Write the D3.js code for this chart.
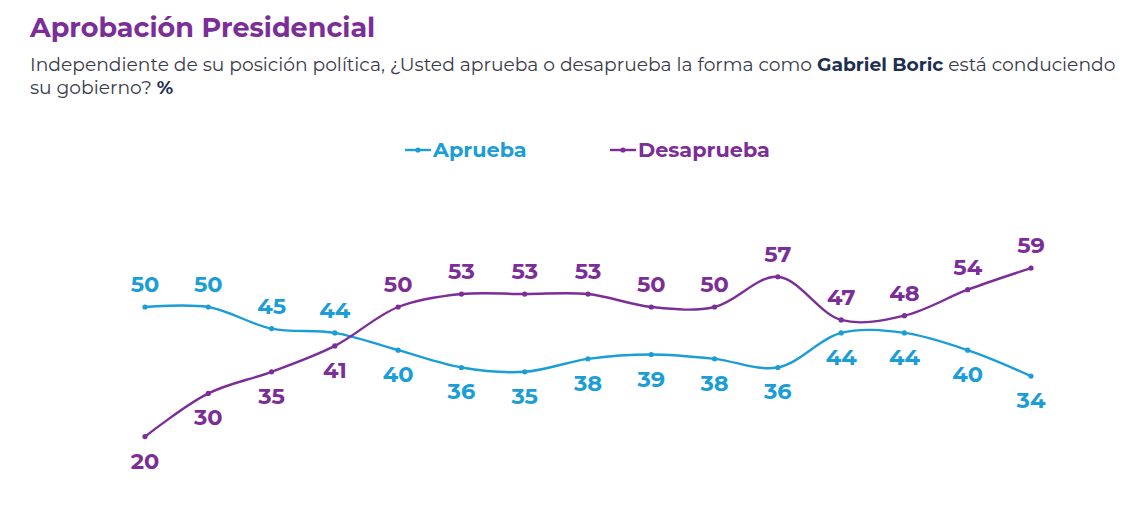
<!DOCTYPE html>
<html><head><meta charset="utf-8">
<script src="https://cdn.jsdelivr.net/npm/d3@7"></script>
<style>body{margin:0;background:#fff;}svg{display:block;}</style>
</head><body>
<svg id="c" width="1127" height="510"></svg>
<script>
const periods = d3.range(1, 16).map(String);
const aprueba = [50,50,45,44,40,36,35,38,39,38,36,44,44,40,34];
const desaprueba = [20,30,35,41,50,53,53,53,50,50,57,47,48,54,59];
const apruebaLabelAbove = [true,true,true,true,false,false,false,false,false,false,false,false,false,false,false];
const desapruebaLabelAbove = [false,false,false,false,true,true,true,true,true,true,true,true,true,true,true];

const BLUE = "#1b9dd6", PURPLE = "#7b2d98";
const FONT = "Montserrat, 'Open Sans', 'Noto Sans', sans-serif";
const svg = d3.select("#c");

svg.append("text").attr("x",30).attr("y",37).attr("fill",PURPLE)
  .attr("font-family",FONT).attr("font-weight",700).attr("font-size",27)
  .text("Aprobación Presidencial");

const sub = svg.append("g").attr("font-family",FONT).attr("font-size",18.7).attr("fill","#3b3b4a");
const l1 = sub.append("text").attr("x",30).attr("y",71);
l1.append("tspan").text("Independiente de su posición política, ¿Usted aprueba o desaprueba la forma como ");
l1.append("tspan").attr("font-weight",700).attr("fill","#1e2f52").text("Gabriel Boric");
l1.append("tspan").text(" está conduciendo");
const l2 = sub.append("text").attr("x",30).attr("y",94);
l2.append("tspan").text("su gobierno? ");
l2.append("tspan").attr("font-weight",700).attr("fill","#1e2f52").text("%");

const x = d3.scalePoint().domain(periods).range([145,1031]);
const y = d3.scaleLinear().domain([0,100]).range([523,91]);

const line = d3.line().x((d,i)=>x(periods[i])).y(d=>y(d)).curve(d3.curveCatmullRom.alpha(0.5));

function series(vals, above, color){
  const g = svg.append("g");
  g.append("path").attr("d",line(vals)).attr("fill","none").attr("stroke",color).attr("stroke-width",2.4);
  g.selectAll("circle").data(vals).join("circle")
    .attr("cx",(d,i)=>x(periods[i])).attr("cy",d=>y(d)).attr("r",2.6).attr("fill",color);
  g.selectAll("text").data(vals).join("text")
    .attr("x",(d,i)=>x(periods[i])).attr("y",(d,i)=>y(d)+(above[i]?-15:32))
    .attr("text-anchor","middle").attr("font-family",FONT).attr("font-weight",700)
    .attr("font-size",22.5).attr("fill",color).text(d=>d);
}
series(aprueba, apruebaLabelAbove, BLUE);
series(desaprueba, desapruebaLabelAbove, PURPLE);

const legend = [{name:"Aprueba",color:BLUE,x:405},{name:"Desaprueba",color:PURPLE,x:610}];
const lg = svg.append("g");
legend.forEach(l=>{
  lg.append("line").attr("x1",l.x).attr("x2",l.x+26).attr("y1",150).attr("y2",150).attr("stroke",l.color).attr("stroke-width",2.4);
  lg.append("circle").attr("cx",l.x+13).attr("cy",150).attr("r",2.6).attr("fill",l.color);
  lg.append("text").attr("x",l.x+28).attr("y",157).attr("font-family",FONT).attr("font-weight",700)
    .attr("font-size",20.8).attr("fill",l.color).text(l.name);
});
</script>
</body></html>
